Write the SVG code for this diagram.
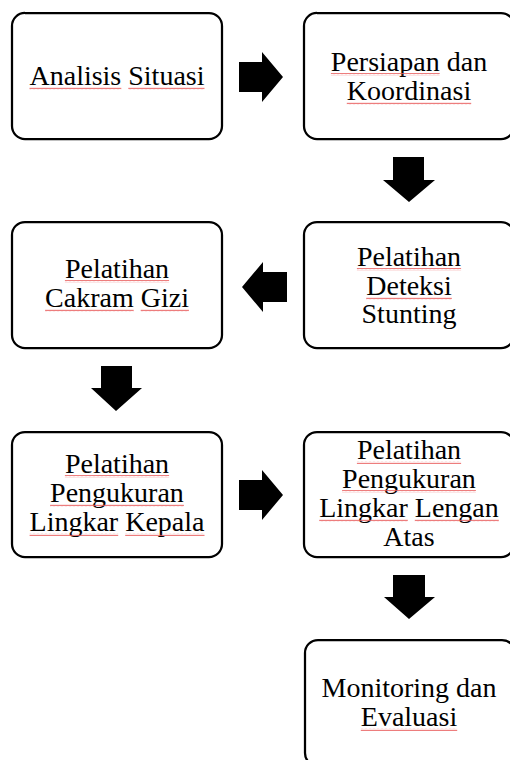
<svg xmlns="http://www.w3.org/2000/svg" width="510" height="760" viewBox="0 0 510 760">
<style>
.box{fill:#fff;stroke:#000;stroke-width:2.25}
.t{font-family:'Times New Roman','Liberation Serif',Tinos,serif;font-size:28px;fill:#000;text-anchor:middle}
.sq{fill:url(#wave)}
</style>
<defs>
<pattern id="wave" width="4" height="3" patternUnits="userSpaceOnUse">
<path d="M0,2.2 L1,0.8 L2,2.2 L3,0.8 L4,2.2" fill="none" stroke="#e85a5a" stroke-width="0.8"/>
</pattern>
</defs>
<rect width="510" height="760" fill="#fff"/>
<g id="connectors" fill="#000">
<polygon points="239,62 262,62 262,52 283,77 262,102 262,92 239,92"/>
<polygon points="393,157 424,157 424,180 435,180 409,202 383,180 393,180"/>
<polygon points="287,272 263,272 263,262 242,287 263,312 263,302 287,302"/>
<polygon points="101,366 132,366 132,388 142,388 116,411 91,388 101,388"/>
<polygon points="239,480 262,480 262,470 283,495 262,520 262,510 239,510"/>
<polygon points="393,575 425,575 425,597 435,597 409,619 384,597 393,597"/>
</g>
<g id="n1">
<rect class="box" x="12" y="13" width="210" height="126" rx="13"/>
<text class="t" x="117" y="85">Analisis Situasi</text>
<rect class="sq" x="29.5" y="87" width="91.8" height="3"/>
<rect class="sq" x="128.3" y="87" width="76.2" height="3"/>
</g>
<g id="n2">
<rect class="box" x="304" y="13" width="210" height="126" rx="13"/>
<text class="t" x="409" y="71">Persiapan dan</text>
<text class="t" x="409" y="100">Koordinasi</text>
<rect class="sq" x="330.9" y="73" width="108.8" height="3"/>
<rect class="sq" x="346.8" y="102" width="124.4" height="3"/>
</g>
<g id="n3">
<rect class="box" x="12" y="222" width="210" height="126" rx="13"/>
<text class="t" x="117" y="278">Pelatihan</text>
<text class="t" x="117" y="307">Cakram Gizi</text>
<rect class="sq" x="64.9" y="280" width="104.2" height="3"/>
<rect class="sq" x="45.1" y="309" width="88.6" height="3"/>
<rect class="sq" x="140.7" y="309" width="48.2" height="3"/>
</g>
<g id="n4">
<rect class="box" x="304" y="222" width="210" height="126" rx="13"/>
<text class="t" x="409" y="266">Pelatihan</text>
<text class="t" x="409" y="295">Deteksi</text>
<text class="t" x="409" y="323">Stunting</text>
<rect class="sq" x="356.9" y="268" width="104.2" height="3"/>
<rect class="sq" x="366.2" y="297" width="85.6" height="3"/>
</g>
<g id="n5">
<rect class="box" x="12" y="432" width="210" height="125" rx="13"/>
<text class="t" x="117" y="473">Pelatihan</text>
<text class="t" x="117" y="502">Pengukuran</text>
<text class="t" x="117" y="531">Lingkar Kepala</text>
<rect class="sq" x="64.9" y="475" width="104.2" height="3"/>
<rect class="sq" x="50.1" y="504" width="133.8" height="3"/>
<rect class="sq" x="29.6" y="533" width="88.6" height="3"/>
<rect class="sq" x="125.2" y="533" width="79.3" height="3"/>
</g>
<g id="n6">
<rect class="box" x="304" y="432" width="210" height="125" rx="13"/>
<text class="t" x="409" y="459">Pelatihan</text>
<text class="t" x="409" y="488">Pengukuran</text>
<text class="t" x="409" y="517">Lingkar Lengan</text>
<text class="t" x="409" y="546">Atas</text>
<rect class="sq" x="356.9" y="461" width="104.2" height="3"/>
<rect class="sq" x="342.1" y="490" width="133.8" height="3"/>
<rect class="sq" x="319.2" y="519" width="88.6" height="3"/>
<rect class="sq" x="414.8" y="519" width="84" height="3"/>
</g>
<g id="n7">
<rect class="box" x="305" y="640" width="210" height="126" rx="13"/>
<text class="t" x="409" y="697">Monitoring dan</text>
<text class="t" x="409" y="726">Evaluasi</text>
<rect class="sq" x="360.8" y="728" width="96.4" height="3"/>
</g>
</svg>
